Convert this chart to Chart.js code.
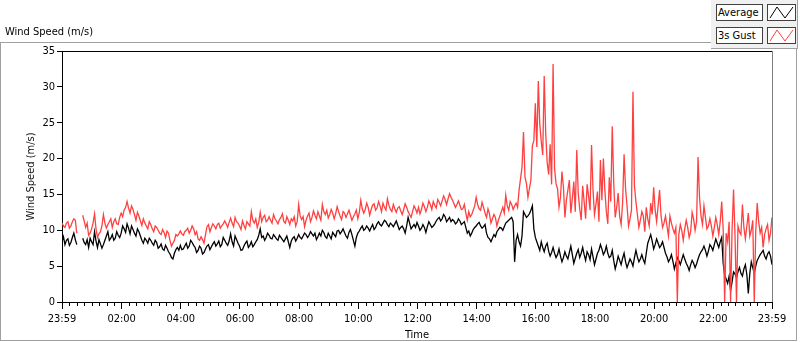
<!DOCTYPE html>
<html>
<head>
<meta charset="utf-8">
<script src="https://cdn.jsdelivr.net/npm/chart.js@4/dist/chart.umd.min.js"></script>
<style>
  body { margin: 0; background: #fff; }
  #wrap { position: relative; width: 800px; height: 342px; overflow: hidden;
          font-family: "DejaVu Sans Condensed", "DejaVu Sans", sans-serif; font-size: 11px; color: #000; }
  #myChart { position: absolute; left: 0; top: 0; }
  .frame { position: absolute; left: 0; top: 42px; width: 795px; height: 297px; border: 1px solid #a0a0a0; pointer-events: none; }
  .title { position: absolute; left: 5px; top: 25px; }
  .legend { position: absolute; left: 711px; top: 0; width: 86px; height: 48px; background: #f0f0f0;
            border-right: 1px solid #a0a0a0; border-bottom: 1px solid #a0a0a0; }
  .lbox { position: absolute; left: 5px; width: 44px; height: 15px; line-height: 15px; background: #fff;
          border: 1px solid #404040; padding-left: 1px; box-sizing: content-box; }
  .ibox { position: absolute; left: 56px; width: 27px; height: 15px; background: #fff; border: 1px solid #404040; }
  .ibox svg { display: block; }
</style>
</head>
<body>
<div id="wrap">
  <canvas id="myChart" width="800" height="342"></canvas>
  <div class="frame"></div>
  <div class="title">Wind Speed (m/s)</div>
  <div class="legend">
    <div class="lbox" style="top:4px">Average</div>
    <div class="ibox" style="top:4px"><svg width="27" height="15"><polyline points="2,13 9,2 17,13 25,2" fill="none" stroke="#000" stroke-width="1"/></svg></div>
    <div class="lbox" style="top:27px">3s Gust</div>
    <div class="ibox" style="top:27px"><svg width="27" height="15"><polyline points="2,13 9,2 17,13 25,2" fill="none" stroke="#ff4040" stroke-width="1"/></svg></div>
  </div>
</div>
<script>
  // one sample every 3 minutes, starting at 23:59 (20 values per row = 1 hour)
  const STEP_MIN = 3;

  const average = [
    8.4,9.1, 8.0,8.6, 8.8,7.9, 8.3,9.0, 9.6,8.7, 8.0,null, null,null, 8.9,8.3, 8.0,8.7, 7.6,8.9,
    8.4,8.0, 9.8,8.5, 7.6,8.7, 8.1,7.5, 8.0,8.6, 9.2,9.8, 8.6,8.9, 9.4,8.6, 8.9,9.8, 9.3,9.0,
    9.6,10.6, 10.2,9.7, 10.9,10.3, 9.5,10.6, 10.1,9.6, 9.2,10.2, 9.8,9.2, 8.6,8.2, 8.9,8.6, 8.2,8.9,
    8.6,8.2, 7.9,8.6, 8.3,7.5, 7.7,8.1, 7.4,7.2, 7.9,7.5, 7.0,6.7, 6.2,6.0, 6.8,7.3, 7.6,7.2,
    7.9,7.3, 7.4,7.8, 8.2,7.5, 7.8,8.6, 8.3,7.9, 7.6,6.9, 7.2,7.8, 7.5,6.7, 6.9,7.4, 7.8,8.0,
    7.3,7.7, 8.1,8.4, 7.8,8.1, 8.5,7.7, 8.0,9.0, 8.6,8.2, 7.9,8.5, 9.5,8.4, 7.8,9.2, 8.7,8.2,
    7.8,7.2, 7.3,7.8, 8.2,8.5, 7.6,7.9, 8.4,7.7, 8.0,8.4, 8.7,9.3, 10.2,9.0, 9.2,8.6, 9.0,9.6,
    9.3,8.9, 8.8,9.4, 9.1,8.8, 8.6,9.3, 9.0,8.7, 8.4,8.8, 9.2,8.4, 7.6,8.5, 8.9,9.1, 8.5,8.9,
    9.4,9.0, 8.8,9.2, 9.6,9.4, 9.0,9.3, 9.8,9.5, 9.2,9.6, 8.7,9.1, 9.6,9.2, 10.0,9.7, 9.1,8.9,
    9.6,9.2, 8.8,9.7, 9.4,9.1, 9.9,10.0, 9.5,9.8, 10.2,9.7, 9.2,8.9, 9.7,10.1, 9.4,8.6, 7.8,9.0,
    9.6,9.9, 10.3,10.6, 10.0,10.2, 10.6,10.3, 9.9,10.4, 10.8,10.1, 10.4,10.9, 11.2,10.8, 10.6,11.0, 11.4,11.2,
    10.8,10.5, 11.0,10.8, 10.5,10.9, 11.3,10.7, 10.1,10.4, 10.6,10.2, 9.6,10.6, 11.8,11.0, 10.2,10.5, 10.8,10.4,
    11.1,10.6, 10.0,10.3, 10.8,10.4, 9.7,10.5, 11.2,10.8, 10.4,10.6, 10.9,11.3, 11.6,11.8, 11.3,11.6, 12.2,11.9,
    11.2,11.5, 11.8,11.2, 11.5,11.3, 10.9,11.1, 11.6,11.3, 10.8,11.0, 11.2,10.4, 9.6,9.9, 9.2,9.6, 10.1,10.4,
    10.6,10.9, 11.1,10.6, 10.3,10.5, 10.8,9.6, 9.0,8.8, 8.4,8.9, 9.4,9.1, 9.8,10.1, 10.4,10.3, 10.0,10.5,
    11.0,11.2, 11.4,11.6, 11.8,11.2, 5.6,8.6, 9.4,8.4, 7.8,9.2, 12.6,12.2, 11.8,12.0, 12.3,12.8, 13.4,10.2,
    9.0,8.4, 7.8,7.2, 8.4,7.6, 7.0,7.8, 8.2,7.1, 6.4,6.9, 7.6,6.8, 6.2,6.6, 7.4,6.4, 5.6,6.2,
    7.0,6.4, 6.0,6.9, 7.8,6.6, 5.4,6.1, 6.8,7.3, 6.2,6.8, 7.6,6.6, 5.8,7.0, 6.6,5.9, 7.4,6.3,
    5.2,6.0, 6.8,7.2, 8.0,7.4, 6.6,7.0, 7.8,6.8, 6.2,6.4, 7.2,5.8, 4.6,5.4, 6.4,5.8, 5.2,6.1,
    6.8,5.6, 4.8,5.4, 6.0,5.6, 5.0,6.2, 7.2,6.3, 5.6,6.0, 6.6,5.9, 5.4,6.8, 8.2,8.8, 9.4,8.5,
    7.4,8.0, 8.8,8.2, 7.6,7.9, 8.4,7.6, 6.8,6.3, 5.6,6.0, 6.6,5.7, 4.6,5.4, 6.2,5.8, 5.2,5.9,
    6.6,6.0, 5.4,5.0, 4.4,5.2, 5.8,5.4, 4.8,5.3, 6.0,6.6, 7.0,7.3, 7.8,7.2, 6.4,7.1, 8.0,7.7,
    7.2,8.0, 8.8,8.2, 7.6,8.4, 9.0,5.4, 3.8,3.2, 2.6,3.6, 1.6,2.8, 4.2,3.9, 3.4,4.2, 4.8,4.0,
    3.6,4.6, 5.2,3.8, 1.2,4.0, 5.6,4.8, 4.0,5.0, 5.8,6.2, 6.6,6.9, 7.2,6.4, 6.0,6.7, 7.0,6.4,
    5.2
  ];

  const gust = [
    11.0,10.6, 10.4,11.0, 11.2,10.3, 10.6,11.2, 11.6,11.4, 9.6,null, null,null, 12.1,11.3, 10.4,11.0, 9.3,9.6,
    10.2,11.0, 12.3,10.2, 9.0,9.5, 9.8,10.6, 12.2,11.0, 10.3,10.8, 11.2,11.6, 10.4,11.2, 11.6,10.9, 10.8,11.8,
    12.4,11.9, 12.8,13.2, 14.0,13.1, 12.4,13.4, 12.9,12.2, 11.4,12.5, 12.0,11.3, 10.7,11.6, 11.0,10.6, 10.2,11.2,
    10.8,10.2, 9.8,10.6, 10.4,10.0, 9.6,9.4, 10.1,9.7, 9.0,9.9, 9.6,8.6, 7.8,8.2, 8.6,9.4, 9.2,9.5,
    9.9,9.5, 9.3,9.8, 10.0,10.3, 9.6,10.0, 10.6,10.2, 9.4,9.8, 8.8,8.6, 9.1,8.7, 8.2,9.4, 10.5,10.8,
    9.8,10.4, 10.9,10.6, 10.2,10.8, 11.0,10.3, 10.6,10.9, 11.3,10.9, 10.4,11.1, 11.7,11.0, 10.5,11.8, 11.2,11.0,
    10.6,10.1, 11.3,10.7, 10.2,11.2, 10.9,10.6, 12.6,11.4, 11.0,11.6, 10.4,11.1, 12.5,11.2, 11.8,12.1, 11.2,11.4,
    11.9,11.4, 11.0,12.2, 11.6,11.3, 10.9,11.5, 11.8,12.3, 11.2,11.0, 11.9,11.4, 10.8,11.6, 11.3,11.9, 10.6,11.2,
    13.6,12.0, 11.5,11.9, 10.5,11.4, 12.0,12.4, 11.2,11.8, 12.7,12.1, 11.6,12.6, 12.0,11.4, 13.6,12.6, 12.2,12.8,
    11.7,12.2, 12.9,12.4, 11.6,12.3, 13.3,12.6, 12.0,11.5, 12.6,12.4, 11.8,12.3, 12.8,12.1, 11.4,11.9, 12.3,12.8,
    11.6,12.5, 14.2,13.0, 12.4,12.9, 13.8,13.2, 12.1,12.9, 13.5,13.7, 12.8,13.1, 14.0,13.4, 12.6,13.8, 13.2,12.8,
    14.4,13.5, 12.9,12.6, 13.6,13.0, 12.5,13.1, 13.3,12.7, 12.2,12.9, 13.7,13.2, 12.6,12.2, 11.8,12.6, 13.4,13.0,
    12.4,13.2, 12.3,12.9, 13.8,13.3, 12.6,13.2, 14.1,13.6, 12.9,14.0, 13.5,13.1, 14.3,13.9, 13.4,14.1, 14.8,14.3,
    13.6,14.4, 15.1,14.6, 14.2,13.7, 13.2,13.6, 14.1,13.5, 12.9,13.0, 13.6,12.4, 11.4,12.6, 11.9,12.2, 12.8,13.4,
    14.6,13.6, 13.0,12.8, 13.9,13.2, 12.4,11.8, 13.0,12.3, 11.0,11.6, 12.2,11.8, 10.6,11.4, 12.0,12.6, 13.2,12.4,
    14.9,13.4, 12.8,14.0, 13.6,12.9, 13.4,13.8, 13.2,15.6, 17.2,18.8, 23.7,17.4, 16.5,14.6, 15.8,17.0, 21.8,22.5,
    27.7,21.6, 30.8,24.8, 22.4,20.5, 31.5,23.6, 19.5,17.8, 22.0,16.4, 33.2,18.6, 16.5,15.8, 13.2,14.6, 18.2,16.0,
    11.8,14.2, 15.6,17.0, 12.4,14.4, 16.8,12.6, 21.2,15.2, 13.0,11.4, 16.2,14.0, 11.6,16.4, 14.8,12.8, 21.9,15.6,
    12.2,13.6, 15.4,11.2, 19.8,14.2, 20.0,15.6, 12.6,10.9, 17.4,14.0, 24.5,16.6, 11.8,13.2, 15.2,12.0, 10.8,13.8,
    20.6,15.8, 13.4,10.6, 11.6,12.8, 29.3,16.2, 14.0,12.2, 10.4,11.4, 12.6,12.0, 9.8,13.2, 11.6,10.6, 13.8,12.2,
    16.0,12.8, 11.2,13.4, 15.6,12.0, 10.4,11.0, 12.0,10.6, 9.2,12.0, 11.0,10.2, 9.6,10.4, 0,9.4, 10.8,10.0,
    8.6,10.2, 11.4,10.4, 9.0,9.8, 12.5,11.6, 10.0,11.2, 20.2,14.6, 12.0,10.8, 13.4,11.8, 10.2,10.6, 11.6,10.6,
    9.2,10.4, 11.8,10.8, 9.4,11.2, 14.0,10.2, 0,9.6, 8.4,11.2, 0,10.0, 15.7,9.2, 0,10.6, 9.8,9.4,
    13.6,10.4, 8.8,10.6, 12.4,9.2, 10.0,11.4, 0,9.8, 13.8,11.2, 9.6,10.4, 7.6,9.4, 10.2,10.8, 8.6,9.6,
    11.8
  ];

  const tickLabels = ['23:59', '02:00', '04:00', '06:00', '08:00', '10:00', '12:00',
                      '14:00', '16:00', '18:00', '20:00', '22:00', '23:59'];

  // minutes since the start (23:59) for each tick label
  const tickMinutes = tickLabels.map((t, i) => {
    if (i === tickLabels.length - 1) return 1440;
    const [h, m] = t.split(':').map(Number);
    return (h * 60 + m + 1) % 1440;
  });

  const toPoints = arr => arr.map((v, i) => ({x: i * STEP_MIN, y: v}));

  const font = {family: '"DejaVu Sans Condensed", "DejaVu Sans", sans-serif', size: 11};

  const frameLines = {
    id: 'frameLines',
    afterDraw(chart) {
      const {ctx, chartArea: a} = chart;
      const x = chart.scales.x;
      ctx.save();
      ctx.lineWidth = 1;
      ctx.strokeStyle = '#000';
      ctx.beginPath();
      ctx.moveTo(a.left, a.top + 0.5);
      ctx.lineTo(a.right, a.top + 0.5);
      ctx.stroke();
      ctx.strokeStyle = '#808080';
      ctx.beginPath();
      ctx.moveTo(a.right + 0.5, a.top);
      ctx.lineTo(a.right + 0.5, a.bottom);
      ctx.stroke();
      // minor ticks, 8 per major interval
      ctx.strokeStyle = '#000';
      ctx.beginPath();
      for (let k = 0; k < tickMinutes.length - 1; k++) {
        for (let j = 1; j < 8; j++) {
          const v = tickMinutes[k] + (tickMinutes[k + 1] - tickMinutes[k]) * j / 8;
          const px = Math.round(x.getPixelForValue(v)) + 0.5;
          ctx.moveTo(px, a.bottom);
          ctx.lineTo(px, a.bottom + 4);
        }
      }
      ctx.stroke();
      ctx.restore();
    }
  };

  const ctx = document.getElementById('myChart').getContext('2d');

  const myChart = new Chart(ctx, {
    type: 'line',
    data: {
      datasets: [{
        label: 'Average',
        data: toPoints(average),
        borderColor: '#000',
        borderWidth: 1.3,
        pointRadius: 0,
        tension: 0,
        spanGaps: false,
        order: 1
      }, {
        label: '3s Gust',
        data: toPoints(gust),
        borderColor: '#ff4040',
        borderWidth: 1.3,
        pointRadius: 0,
        tension: 0,
        spanGaps: false,
        order: 0
      }]
    },
    options: {
      responsive: false,
      animation: false,
      layout: {
        padding: {top: 51, right: 28, left: 0, bottom: 0}
      },
      plugins: {
        legend: {display: false},
        tooltip: {enabled: false}
      },
      scales: {
        x: {
          type: 'linear',
          min: 0,
          max: 1440,
          afterBuildTicks: s => { s.ticks = tickMinutes.map(v => ({value: v})); },
          afterFit: s => { s.height = 40; },
          ticks: {
            autoSkip: false,
            maxRotation: 0,
            padding: 4,
            color: '#000',
            font: font,
            callback: (v, i) => tickLabels[i]
          },
          grid: {drawOnChartArea: false, tickLength: 7, color: '#000'},
          border: {color: '#000'},
          title: {display: true, text: 'Time', color: '#000', font: font, padding: 0}
        },
        y: {
          min: 0,
          max: 35,
          afterFit: s => { s.width = 62; },
          ticks: {stepSize: 5, padding: 2, color: '#000', font: font},
          grid: {drawOnChartArea: false, tickLength: 5, color: '#000'},
          border: {color: '#000'},
          title: {display: true, text: 'Wind Speed (m/s)', color: '#111', font: font, padding: {top: 25}}
        }
      }
    },
    plugins: [frameLines]
  });
</script>
</body>
</html>
